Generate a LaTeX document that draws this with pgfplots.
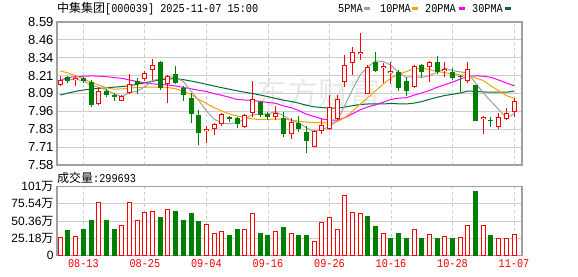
\documentclass[border=0pt]{standalone}
\usepackage{pgfplots}
\pgfplotsset{compat=1.18}
\usepackage{pgfplotstable}
\usepackage{fontspec}
\setmainfont{Liberation Sans}
\newfontfamily\cjk{Noto Sans CJK SC}
\newfontfamily\mono[FakeStretch=0.85]{Liberation Mono}
\definecolor{up}{HTML}{FF0000}
\definecolor{dn}{HTML}{008000}
\definecolor{mafive}{HTML}{A0A0A0}
\definecolor{maten}{HTML}{F5A300}
\definecolor{matwenty}{HTML}{FF00FF}
\definecolor{mathirty}{HTML}{006B2E}
\definecolor{framec}{HTML}{A0A0A0}
\definecolor{gridc}{HTML}{CCCCCC}
\definecolor{wm}{HTML}{E8E8E8}

\pgfplotstableread{
i O H L C
0 8.145 8.209 8.138 8.180
2 8.178 8.207 8.138 8.194
5 8.011 8.129 8.004 8.103
8 8.034 8.074 8.030 8.070
9 8.086 8.223 8.079 8.150
11 8.190 8.242 8.171 8.227
12 8.249 8.329 8.180 8.286
14 8.152 8.218 8.016 8.209
19 7.823 7.855 7.735 7.837
20 7.832 7.879 7.790 7.870
21 7.867 7.945 7.855 7.938
24 7.846 7.940 7.839 7.935
25 7.950 8.173 7.917 8.044
28 7.917 7.997 7.898 7.950
30 7.797 7.910 7.762 7.886
33 7.709 7.827 7.705 7.820
34 7.820 7.903 7.799 7.860
35 7.832 8.072 7.827 7.987
36 7.903 8.072 7.898 8.048
37 8.169 8.357 8.129 8.289
38 8.298 8.416 8.216 8.380
39 8.362 8.510 8.322 8.380
40 8.081 8.286 8.079 8.275
42 8.268 8.298 8.157 8.282
43 8.227 8.310 8.152 8.244
46 8.133 8.286 8.126 8.282
48 8.270 8.315 8.169 8.305
50 8.246 8.310 8.204 8.260
53 8.173 8.310 8.157 8.256
55 7.902 7.926 7.797 7.916
57 7.846 7.950 7.832 7.917
58 7.903 7.980 7.898 7.950
59 7.957 8.051 7.921 8.032
}\upc

\pgfplotstableread{
i O H L C
1 8.199 8.209 8.157 8.173
3 8.194 8.204 8.157 8.171
4 8.169 8.180 7.987 8.004
6 8.100 8.119 8.058 8.077
7 8.074 8.091 8.034 8.060
10 8.176 8.192 8.079 8.152
13 8.307 8.315 8.110 8.126
15 8.223 8.279 8.155 8.157
16 8.126 8.138 8.034 8.074
17 8.056 8.086 7.879 7.938
18 7.933 7.968 7.721 7.808
22 7.921 7.926 7.884 7.903
23 7.914 7.921 7.839 7.870
26 8.023 8.032 7.921 7.933
27 7.938 7.954 7.898 7.921
29 7.910 7.952 7.780 7.797
31 7.874 7.926 7.815 7.832
32 7.811 7.855 7.667 7.752
41 8.310 8.380 8.239 8.246
44 8.239 8.251 8.105 8.122
45 8.173 8.204 8.067 8.105
47 8.286 8.290 8.199 8.239
49 8.305 8.350 8.220 8.239
51 8.239 8.263 8.180 8.192
52 8.209 8.216 8.098 8.199
54 8.145 8.148 7.890 7.893
56 7.900 7.917 7.846 7.891
}\dnc

\pgfplotstableread{
i v
0 26.4
2 27.9
5 77.7
8 44.0
9 77.7
10 51.3
11 63.1
12 64.5
14 67.5
19 45.5
20 32.3
21 35.2
24 38.1
25 61.6
28 35.2
30 32.3
33 20.5
34 48.4
35 55.7
36 37.2
37 88.0
38 63.1
39 61.6
42 32.3
46 38.1
48 30.8
50 27.9
52 26.4
53 44.0
55 44.0
57 24.9
58 24.0
59 29.97
}\volup

\pgfplotstableread{
i v
1 35.7
3 37.2
4 51.8
6 50.4
7 37.2
13 54.8
15 65.0
16 51.8
17 61.6
18 48.9
22 28.4
23 38.6
26 32.3
27 28.4
29 41.1
31 28.4
32 29.8
40 57.7
41 41.6
43 24.9
44 32.3
45 25.4
47 24.0
49 25.4
51 24.0
54 94.4
56 28.4
}\voldn

\pgfplotstableread{
i m5 m10 m20 m30
0 8.180 8.245 8.180 8.074
1 8.185 8.230 8.198 8.088
2 8.185 8.210 8.203 8.100
3 8.175 8.188 8.207 8.110
4 8.144 8.165 8.209 8.116
5 8.129 8.145 8.208 8.121
6 8.110 8.125 8.204 8.125
7 8.083 8.115 8.198 8.130
8 8.063 8.118 8.192 8.134
9 8.092 8.124 8.180 8.140
10 8.102 8.127 8.170 8.150
11 8.132 8.129 8.160 8.160
12 8.177 8.130 8.153 8.172
13 8.188 8.130 8.149 8.182
14 8.200 8.128 8.145 8.188
15 8.201 8.118 8.138 8.190
16 8.170 8.100 8.128 8.183
17 8.101 8.078 8.118 8.173
18 8.037 8.043 8.108 8.162
19 7.961 8.015 8.099 8.150
20 7.904 7.985 8.084 8.138
21 7.877 7.962 8.072 8.126
22 7.870 7.940 8.058 8.115
23 7.882 7.926 8.043 8.104
24 7.903 7.915 8.039 8.094
25 7.938 7.906 8.036 8.085
26 7.937 7.900 8.029 8.074
27 7.941 7.902 8.022 8.063
28 7.957 7.905 8.016 8.050
29 7.929 7.902 7.998 8.038
30 7.897 7.898 7.985 8.029
31 7.877 7.890 7.965 8.017
32 7.843 7.883 7.939 8.002
33 7.817 7.880 7.923 7.991
34 7.830 7.878 7.906 7.986
35 7.850 7.876 7.897 7.982
36 7.893 7.886 7.896 7.981
37 8.001 7.915 7.914 7.989
38 8.113 7.960 7.942 7.999
39 8.217 8.010 7.970 8.007
40 8.274 8.055 7.990 8.011
41 8.314 8.105 8.005 8.011
42 8.312 8.152 8.024 8.011
43 8.285 8.195 8.043 8.015
44 8.233 8.222 8.052 8.012
45 8.199 8.240 8.055 8.011
46 8.206 8.262 8.073 8.017
47 8.198 8.262 8.089 8.028
48 8.211 8.255 8.106 8.044
49 8.234 8.240 8.129 8.058
50 8.264 8.232 8.147 8.071
51 8.246 8.224 8.165 8.079
52 8.238 8.216 8.187 8.089
53 8.228 8.212 8.205 8.102
54 8.159 8.195 8.210 8.100
55 8.090 8.177 8.207 8.096
56 8.029 8.138 8.199 8.094
57 7.973 8.106 8.180 8.094
58 7.912 8.070 8.159 8.094
59 7.940 8.052 8.140 8.102
}\ma

\pgfplotsset{
  kbase/.style={
    scale only axis, width=465pt,
    xmin=-0.43, xmax=60.04,
    axis line style={framec, line width=1.2pt},
    tick style={draw=none},
    xtick={3,11,19,27,35,43,51,59},
    xmajorgrids, ymajorgrids,
    x grid style={gridc, line width=0.8pt, dash pattern=on 3pt off 3pt},
    y grid style={gridc, line width=0.8pt},
  },
  wick/.style={only marks, mark=*, mark size=0pt, mark options={draw=none, fill=none}, forget plot,
    error bars/.cd, y dir=plus, y explicit, error mark=none,
    error bar style={color=#1, line width=1pt}},
  body/.style 2 args={only marks, mark=*, mark size=0pt, mark options={draw=none, fill=none}, forget plot,
    error bars/.cd, y dir=plus, y explicit, error mark=none,
    error bar style={color=#1, line width=#2}},
}

\begin{document}
\begin{tikzpicture}[x=1pt,y=1pt]
\useasboundingbox (0,0) rectangle (578,276);
% watermark
\node[text=wm, font=\cjk\fontsize{31}{31}\selectfont, inner sep=0] at (318,183) {东方财富};

\begin{axis}[kbase, at={(57pt,111pt)}, anchor=south west, height=143pt,
  ymin=7.58, ymax=8.59,
  ytick={7.58,7.70625,7.8325,7.95875,8.085,8.21125,8.3375,8.46375,8.59},
  yticklabels={7.58,7.71,7.83,7.96,8.09,8.21,8.34,8.46,8.59},
  yticklabel style={font=\fontsize{13}{13}\selectfont, text=black},
  xticklabels={},
]
% moving averages
\addplot[mathirty, line width=1pt, mark=none] table[x=i, y=m30] {\ma};
\addplot[matwenty, line width=1pt, mark=none] table[x=i, y=m20] {\ma};
\addplot[maten, line width=1pt, mark=none] table[x=i, y=m10] {\ma};
\addplot[mafive, line width=1pt, mark=none] table[x=i, y=m5] {\ma};
% falling candles
\addplot[wick=dn] table[x=i, y=L, y error expr=\thisrow{H}-\thisrow{L}] {\dnc};
\addplot[body={dn}{5pt}] table[x=i, y=C, y error expr=\thisrow{O}-\thisrow{C}] {\dnc};
% rising candles
\addplot[wick=up] table[x=i, y=L, y error expr=\thisrow{H}-\thisrow{L}] {\upc};
\addplot[body={up}{5pt}] table[x=i, y=O, y error expr=\thisrow{C}-\thisrow{O}] {\upc};
\addplot[body={white}{3pt}] table[x=i, y expr=\thisrow{O}+0.0071, y error expr=\thisrow{C}-\thisrow{O}-0.0142] {\upc};
\end{axis}

\begin{axis}[kbase, at={(57pt,20.7pt)}, anchor=south west, height=68.6pt,
  ymin=0, ymax=100.72,
  ytick={0,25.18,50.36,75.54,100.72},
  yticklabels={0,25.18{\cjk 万},50.36{\cjk 万},75.54{\cjk 万},101{\cjk 万}},
  yticklabel style={font=\fontsize{12}{12}\selectfont, text=black},
  xticklabels={08-13,08-25,09-04,09-16,09-26,10-16,10-28,11-07},
  xticklabel style={font=\mono\fontsize{12}{12}\selectfont, text=up, yshift=-1pt},
]
\addplot[ybar, bar width=4pt, bar shift=0pt, draw=up, fill=white, line width=1pt] table[x=i, y=v] {\volup};
\addplot[ybar, bar width=4pt, bar shift=0pt, draw=dn, fill=dn, line width=1pt] table[x=i, y=v] {\voldn};
\end{axis}

% title
\node[anchor=west, inner sep=0] at (57,267.5) {\fontsize{12}{12}\selectfont{\cjk 中集集团}{\mono [000039] 2025-11-07 15:00}};
% legend
\node[anchor=west, inner sep=0] at (338,267.5) {\mono\fontsize{12}{12}\selectfont 5PMA};
\draw[mafive, line width=2.5pt] (364,267.5) -- (370,267.5);
\node[anchor=west, inner sep=0] at (380,267.5) {\mono\fontsize{12}{12}\selectfont 10PMA};
\draw[maten, line width=2.5pt] (412,267.5) -- (418,267.5);
\node[anchor=west, inner sep=0] at (425,267.5) {\mono\fontsize{12}{12}\selectfont 20PMA};
\draw[matwenty, line width=2.5pt] (459,267.5) -- (465,267.5);
\node[anchor=west, inner sep=0] at (472,267.5) {\mono\fontsize{12}{12}\selectfont 30PMA};
\draw[mathirty, line width=2.5pt] (505,267.5) -- (511,267.5);
% volume caption
\node[anchor=west, inner sep=0] at (57,98.3) {\fontsize{12}{12}\selectfont{\cjk 成交量}{\mono :299693}};
\end{tikzpicture}
\end{document}
